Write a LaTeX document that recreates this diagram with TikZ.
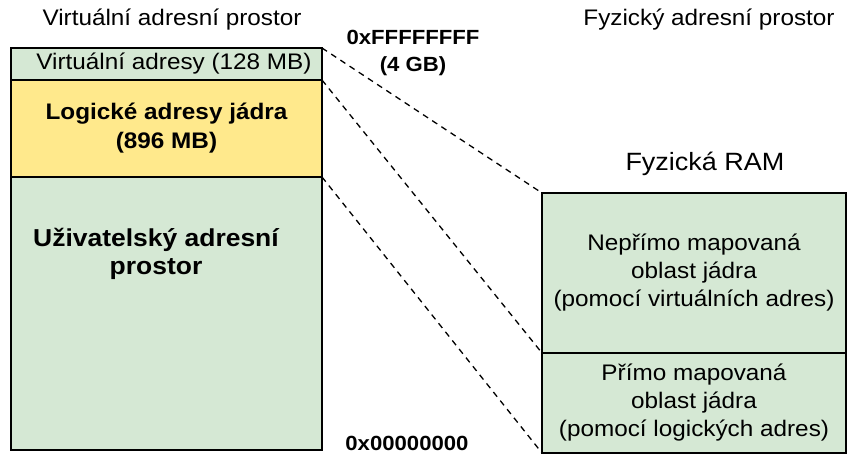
\documentclass[tikz,border=0pt]{standalone}
\usepackage{fontspec}
\setmainfont{Liberation Sans}[FakeStretch=1.08]
\usetikzlibrary{positioning}

\definecolor{ramgreen}{HTML}{D5E8D4}
\definecolor{kernyellow}{HTML}{FFE98C}

\tikzset{
  region/.style={draw, line width=1.5pt, inner sep=0pt, outer sep=0pt,
    fill=ramgreen, align=center},
  mapline/.style={line width=1.3pt, dash pattern=on 6pt off 5pt},
  boldtext/.style={font=\fontsize{22.5}{29}\selectfont\bfseries, align=center},
  hexlabel/.style={font=\fontsize{20.5}{27}\selectfont\bfseries, align=center}
}

\begin{document}
\begin{tikzpicture}[x=1pt, y=-1pt, font=\fontsize{22.5}{28}\selectfont]
        \useasboundingbox (0,0) rectangle (847,455);

        % virtual address space
        \node[region, minimum width=311pt, minimum height=32pt, anchor=north west] (virt) at (11,48) {\hspace*{15pt}Virtuální adresy (128 MB)};
        \node[region, minimum width=311pt, minimum height=97pt, fill=kernyellow, boldtext, below=0pt of virt] (logic) {Logické adresy jádra\\(896 MB)};
        \node[region, minimum width=311pt, minimum height=273pt, below=0pt of logic] (user) {};
        \node[boldtext, font=\fontsize{24.5}{28}\selectfont\bfseries] (usertxt) at (156,254) {Uživatelský adresní\\prostor};

        % physical RAM
        \node[region, minimum width=304pt, minimum height=160pt, anchor=north west] (indirect) at (542,193) {Nepřímo mapovaná\\oblast jádra\\(pomocí virtuálních adres)};
        \node[region, minimum width=304pt, minimum height=100pt, below=0pt of indirect] (direct) {Přímo mapovaná\\oblast jádra\\(pomocí logických adres)};

        \draw[mapline] (virt.north east) -- (indirect.north west);
        \draw[mapline] (virt.south east) -- (indirect.south west);
        \draw[mapline] (logic.south east) -- (direct.south west);

        \node (virttitle) at (172,20) {Virtuální adresní prostor};
        \node (phystitle) at (709,20) {Fyzický adresní prostor};
        \node[font=\fontsize{25}{28}\selectfont] (ramtitle) at (705,164) {Fyzická RAM};
        \node[hexlabel] (toplabel) at (413,53) {0xFFFFFFFF\\(4 GB)};
        \node[hexlabel] (bottomlabel) at (407,443) {0x00000000};
    \end{tikzpicture}
\end{document}
